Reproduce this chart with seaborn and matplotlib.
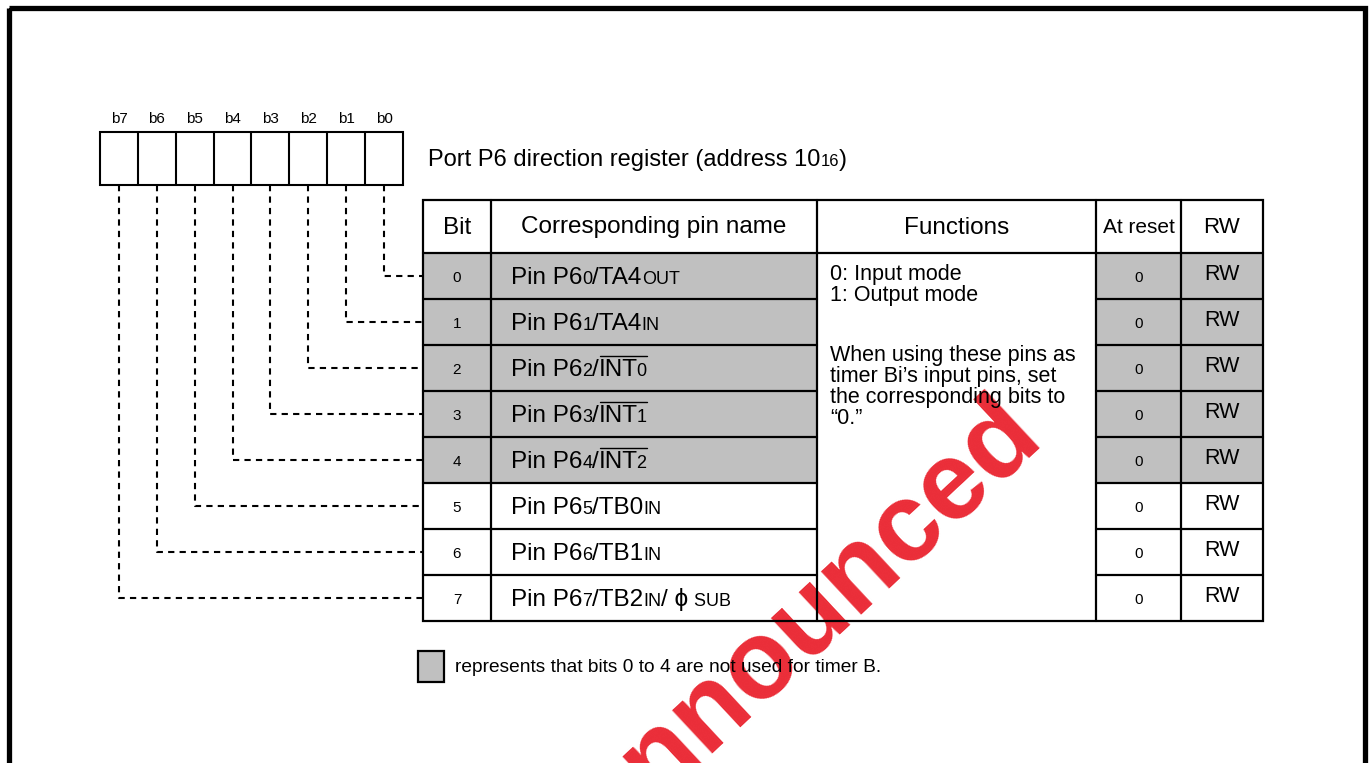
import matplotlib
matplotlib.use('Agg')
import matplotlib.pyplot as plt
import seaborn as sns
from matplotlib.patches import Rectangle

sns.set_theme(style='white')
plt.rcParams['font.family'] = ['Liberation Sans', 'DejaVu Sans']
plt.rcParams['text.color'] = 'black'

# register / table contents
bit_labels = ['b7', 'b6', 'b5', 'b4', 'b3', 'b2', 'b1', 'b0']
bits = ['0', '1', '2', '3', '4', '5', '6', '7']
# style codes: n = normal, s = small, o = overlined, os = overlined small
pin_names = [
    [('Pin P6', 'n'), ('0', 's'), ('/TA4', 'n'), ('OUT', 's')],
    [('Pin P6', 'n'), ('1', 's'), ('/TA4', 'n'), ('IN', 's')],
    [('Pin P6', 'n'), ('2', 's'), ('/', 'n'), ('INT', 'o'), ('0', 'os')],
    [('Pin P6', 'n'), ('3', 's'), ('/', 'n'), ('INT', 'o'), ('1', 'os')],
    [('Pin P6', 'n'), ('4', 's'), ('/', 'n'), ('INT', 'o'), ('2', 'os')],
    [('Pin P6', 'n'), ('5', 's'), ('/TB0', 'n'), ('IN', 's')],
    [('Pin P6', 'n'), ('6', 's'), ('/TB1', 'n'), ('IN', 's')],
    [('Pin P6', 'n'), ('7', 's'), ('/TB2', 'n'), ('IN', 's'),
     ('/ \u03d5', 'n'), (' SUB', 's')],
]
reset_values = ['0', '0', '0', '0', '0', '0', '0', '0']
rw_values = ['RW', 'RW', 'RW', 'RW', 'RW', 'RW', 'RW', 'RW']
not_timer_b = [True, True, True, True, True, False, False, False]
header = ['Bit', 'Corresponding pin name', 'Functions', 'At reset', 'RW']
function_par1 = ['0: Input mode', '1: Output mode']
function_par2 = ['When using these pins as', 'timer Bi\u2019s input pins, set',
                 'the corresponding bits to', '\u201c0.\u201d']
title_parts = [('Port P6 direction register (address 10', 'n'), ('16', 's'), (')', 'n')]
legend_text = 'represents that bits 0 to 4 are not used for timer B.'
watermark = 'Announced'

GRAY = '#c0c0c0'
W, H = 1370, 763

fig = plt.figure(figsize=(W / 100, H / 100), dpi=100)
ax = fig.add_axes([0, 0, 1, 1])
ax.set_xlim(0, W)
ax.set_ylim(H, 0)
ax.axis('off')
renderer = fig.canvas.get_renderer()


def text_width(s, size):
    t1 = ax.text(0, 0, 'x' + s + 'x', fontsize=size)
    t2 = ax.text(0, 0, 'xx', fontsize=size)
    w = t1.get_window_extent(renderer).width - t2.get_window_extent(renderer).width
    t1.remove()
    t2.remove()
    return w


def draw_parts(x, y, parts, size, small):
    cap = size * 100 / 72 * 0.716
    over = []
    for s, style in parts:
        fs = small if 's' in style else size
        ax.text(x, y, s, fontsize=fs, va='baseline', ha='left', zorder=5)
        w = text_width(s, fs)
        if s.endswith('T'):
            w -= 1.5  # tighten like the original
        if 'o' in style:
            over.append((x, x + w))
        x += w
    if over:
        ax.plot([over[0][0] + 1, over[-1][1]], [y - cap - 3, y - cap - 3],
                color='black', lw=1.0, zorder=5)


# outer frame
ax.add_patch(Rectangle((9.5, 7.5), 1356, 800, fill=False, ec='black', lw=3.8, zorder=6))

# register box
box_x0, box_x1, box_y0, box_y1 = 100, 403, 132, 185
cw = (box_x1 - box_x0) / len(bit_labels)
ax.add_patch(Rectangle((box_x0, box_y0), box_x1 - box_x0, box_y1 - box_y0,
                       fill=False, ec='black', lw=1.5, zorder=4))
for i, lab in enumerate(bit_labels):
    cx = box_x0 + (i + 0.5) * cw
    if i > 0:
        ax.plot([box_x0 + i * cw] * 2, [box_y0, box_y1], color='black', lw=1.5, zorder=4)
    ax.text(cx, 119, lab, fontsize=11, ha='center', va='center', zorder=5)

draw_parts(428, 166, title_parts, 17, 12)

# table geometry
col_x = [423, 491, 817, 1096, 1181, 1263]
top, head_b, row_h = 200, 253, 46
n = len(bits)
bottom = head_b + n * row_h

for i in range(n):
    y0 = head_b + i * row_h
    if not_timer_b[i]:
        for c0, c1 in [(col_x[0], col_x[2]), (col_x[3], col_x[5])]:
            ax.add_patch(Rectangle((c0, y0), c1 - c0, row_h, fc=GRAY, ec='none', zorder=1))

# watermark
ax.text(802, 628, watermark, fontsize=80, fontweight='bold', color='#e8101c', alpha=0.88,
        rotation=43, ha='center', va='center', rotation_mode='anchor', zorder=2)

lw = 1.6
ax.add_patch(Rectangle((col_x[0], top), col_x[-1] - col_x[0], bottom - top,
                       fill=False, ec='black', lw=lw, zorder=4))
ax.plot([col_x[0], col_x[-1]], [head_b, head_b], color='black', lw=lw, zorder=4)
for i in range(1, n):
    y = head_b + i * row_h
    for c0, c1 in [(col_x[0], col_x[2]), (col_x[3], col_x[5])]:
        ax.plot([c0, c1], [y, y], color='black', lw=lw, zorder=4)
for c in col_x[1:-1]:
    ax.plot([c, c], [top, bottom], color='black', lw=lw, zorder=4)

# header
hy = (top + head_b) / 2 + 1
header_sizes = [17.5, 17.5, 17.5, 15, 16]
for j, (h, fs) in enumerate(zip(header, header_sizes)):
    ax.text((col_x[j] + col_x[j + 1]) / 2, hy, h, fontsize=fs, ha='center', va='center', zorder=5)

# rows
for i in range(n):
    yc = head_b + (i + 0.5) * row_h
    ax.text((col_x[0] + col_x[1]) / 2, yc + 2, bits[i], fontsize=11, ha='center', va='center', zorder=5)
    draw_parts(511, yc + 8, pin_names[i], 17.5, 13)
    ax.text((col_x[3] + col_x[4]) / 2, yc + 2, reset_values[i], fontsize=11,
            ha='center', va='center', zorder=5)
    ax.text((col_x[4] + col_x[5]) / 2, yc - 2, rw_values[i], fontsize=15.5,
            ha='center', va='center', zorder=5)

    # dashed connector from the register cell to the row
    cx = box_x0 + (n - 1 - i + 0.5) * cw
    ax.plot([cx, cx, col_x[0]], [box_y1, yc, yc], color='black', lw=1.5,
            dashes=(3, 2.5), zorder=3)

# functions text
for k, line in enumerate(function_par1):
    ax.text(830, 280 + k * 21, line, fontsize=15.5, va='baseline', ha='left', zorder=5)
for k, line in enumerate(function_par2):
    ax.text(830, 361 + k * 21, line, fontsize=15.5, va='baseline', ha='left', zorder=5)

# legend
ax.add_patch(Rectangle((418, 651), 26, 31, fc=GRAY, ec='black', lw=1.6, zorder=4))
ax.text(455, 672, legend_text, fontsize=13.8, va='baseline', ha='left', zorder=5)

fig.savefig('out.png', dpi=100)
